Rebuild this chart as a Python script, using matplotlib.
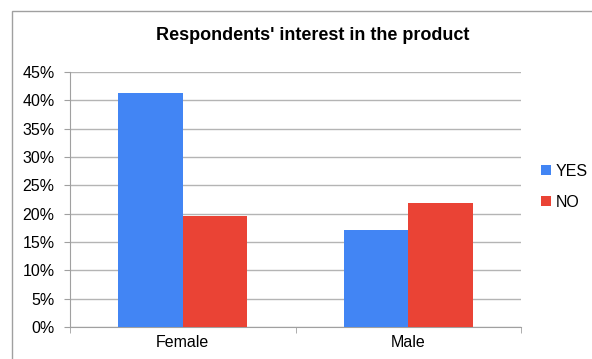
import matplotlib.pyplot as plt
from matplotlib.patches import Rectangle
from matplotlib.ticker import FuncFormatter
import numpy as np

plt.rcParams['font.family'] = ['Liberation Sans', 'DejaVu Sans']

categories = ["Female", "Male"]
yes_vals = [41.3, 17.1]
no_vals = [19.6, 21.9]
series_names = ["YES", "NO"]

fig = plt.figure(figsize=(5.92, 3.59), dpi=100)
ax = fig.add_axes([70 / 592, 1 - 327 / 359, 451 / 592, 255 / 359])

# outer chart frame (clipped at right/bottom like the reference)
fig.patches.append(Rectangle((12 / 592, -0.1), 1.2, 1 - 11 / 359 + 0.1,
                             transform=fig.transFigure, fill=False,
                             edgecolor="#a0a0a0", linewidth=1.0))

x = np.arange(len(categories))
w = 0.286
ax.bar(x - w / 2, yes_vals, w, color="#4285f4", label=series_names[0], zorder=3)
ax.bar(x + w / 2, no_vals, w, color="#ea4335", label=series_names[1], zorder=3)

ax.set_xlim(-0.5, 1.5)
ax.set_ylim(0, 45)
ax.set_yticks(np.arange(0, 46, 5))
ax.yaxis.set_major_formatter(FuncFormatter(lambda v, p: f"{int(v)}%"))
ax.set_xticks(x)
ax.set_xticklabels(categories)
ax.set_xticks([-0.5, 0.5, 1.5], minor=True)
ax.tick_params(axis="x", which="major", length=0, labelsize=11.5, pad=6)
ax.tick_params(axis="x", which="minor", length=4, color="#a0a0a0")
ax.tick_params(axis="y", length=4, color="#a0a0a0", labelsize=11.5, pad=7)

ax.grid(axis="y", color="#b4b4b4", linewidth=1.0, zorder=0)
for s in ["top", "right"]:
    ax.spines[s].set_visible(False)
ax.spines["left"].set_color("#a0a0a0")
ax.spines["bottom"].set_color("#a0a0a0")

fig.text(313 / 592, 1 - 35 / 359, "Respondents' interest in the product",
         ha="center", va="center", fontsize=13, fontweight="bold")

ax.legend(loc="center left", bbox_to_anchor=(1.013, 0.55), frameon=False,
          fontsize=11.5, handlelength=0.6, handleheight=0.6, handletextpad=0.3,
          labelspacing=1.0)

fig.savefig("out.png", dpi=100)
